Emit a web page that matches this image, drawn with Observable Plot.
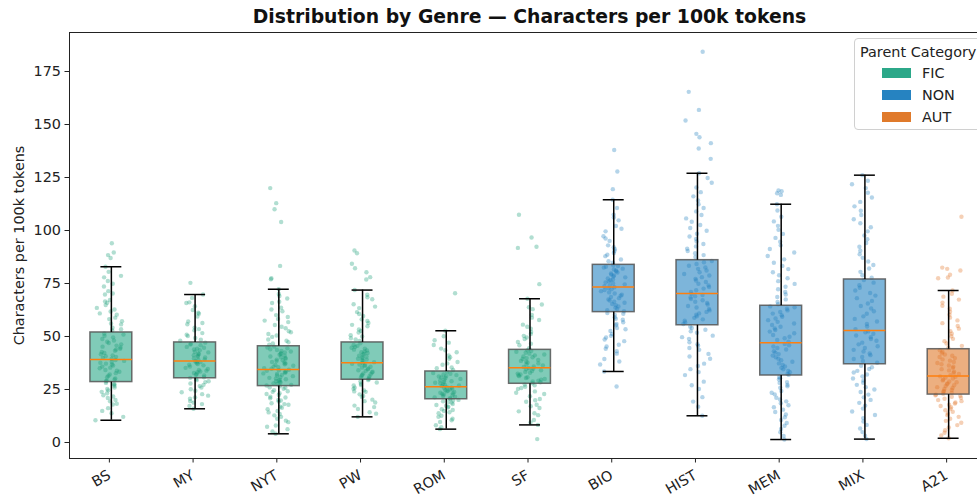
<!DOCTYPE html>
<html>
<head>
<meta charset="utf-8">
<script src="https://cdn.jsdelivr.net/npm/d3@7"></script>
<script src="https://cdn.jsdelivr.net/npm/@observablehq/plot@0.6"></script>
<style>
  html, body { margin: 0; padding: 0; background: white; overflow: hidden; width: 977px; height: 497px; }
  #wrap { position: relative; width: 1000px; height: 497px; font-family: "DejaVu Sans", sans-serif; }
  #title { position: absolute; left: 69px; width: 921px; top: 5px; text-align: center; font-weight: bold; font-size: 18.8px; line-height: 24px; color: #111; }
  #legend { position: absolute; left: 854px; top: 38px; width: 150px; height: 92px; border: 1px solid #d0d0d0; border-radius: 4px; background: rgba(255,255,255,0.85); font-size: 14.4px; color: #222; box-sizing: border-box; }
  #legend .lt { position: absolute; left: 5px; top: 5px; white-space: nowrap; }
  #legend .row { position: absolute; left: 27px; height: 18px; display: flex; align-items: center; white-space: nowrap; }
  #legend .sw { width: 29px; height: 10px; margin-right: 11px; }
</style>
</head>
<body>
<div id="wrap">
  <div id="chart"></div>
  <div id="title">Distribution by Genre — Characters per 100k tokens</div>
  <div id="legend"></div>
</div>
<script>
const genres = ["BS","MY","NYT","PW","ROM","SF","BIO","HIST","MEM","MIX","A21"];
const parents = ["FIC","FIC","FIC","FIC","FIC","FIC","NON","NON","NON","NON","AUT"];
const categories = ["FIC","NON","AUT"];
const categoryColors = ["#2ca889","#2683c1","#e07a2b"];
const pointColors = ["#139a74","#1a7bbd","#e07020"];

const whiskerLow  = [10.5, 15.9,  4.1, 12.1,  6.3,  8.3, 33.5,  12.6,   1.4,   1.6,  2.0];
const quart1      = [28.5, 30.3, 26.6, 29.6, 20.4, 27.7, 61.5,  55.3,  31.6,  36.9, 22.6];
const medians     = [39.2, 38.5, 34.4, 37.6, 26.3, 35.2, 73.3,  70.3,  47.0,  52.8, 31.4];
const quart3      = [51.9, 47.2, 45.4, 47.2, 33.5, 43.7, 83.8,  86.0,  64.5,  76.9, 44.0];
const whiskerHigh = [82.9, 69.8, 72.3, 71.9, 52.7, 67.8, 114.5, 127.0, 112.4, 126.1, 71.7];

const ptsBS = [10.5,12.1,13.8,16.2,17.9,19.4,20.1,21.7,22.3,23.9,24.6,25.2,26.8,27.4,28.1,
  28.9,29.7,30.2,31.5,32.1,33.4,34.2,35.0,35.8,36.3,37.6,38.1,38.9,
  39.5,40.4,41.1,42.7,43.3,44.8,45.2,46.9,47.5,48.1,49.6,50.3,51.4,
  52.8,54.1,55.7,57.2,58.9,60.3,61.8,63.5,65.9,67.2,69.8,71.4,73.6,76.2,77.9,80.5,82.9,
  87.0,88.4,89.6,94.0,
  14.9,18.3,21.0,23.2,25.9,27.6,29.2,30.8,32.7,33.9,35.3,36.8,37.2,38.5,39.9,40.7,41.6,42.2,
  43.8,44.2,45.7,46.3,48.8,50.9,53.4,56.1,58.2,60.9,62.7,64.8,66.5,70.3,74.9,78.6];
const ptsMY = [15.9,17.2,18.8,19.5,21.3,22.1,23.7,24.4,25.9,26.6,27.8,28.5,29.4,30.1,
  30.8,31.6,32.3,33.1,33.9,34.7,35.2,36.4,37.0,37.9,38.3,
  38.9,39.6,40.5,41.2,42.0,42.8,43.5,44.3,45.1,45.9,46.6,47.1,
  48.0,49.3,50.8,51.6,52.9,54.2,55.8,57.1,59.4,60.7,62.5,64.3,66.1,68.2,69.8,
  75.3,
  18.1,20.6,22.8,25.1,27.2,28.9,30.5,31.9,32.8,33.5,34.2,35.8,36.7,37.4,38.1,39.2,40.1,40.9,
  41.7,42.5,43.9,44.7,46.2,48.5,50.2,53.5,56.4,61.2,65.8];
const ptsNYT = [4.1,6.3,8.0,9.6,11.2,12.8,13.5,14.9,15.7,16.4,17.8,18.5,19.3,20.1,20.9,21.6,22.4,23.2,23.9,24.7,25.3,26.0,26.5,
  26.9,27.6,28.3,28.9,29.5,30.2,30.8,31.3,31.9,32.6,33.2,33.8,34.3,
  34.8,35.5,36.2,36.9,37.7,38.4,39.1,39.9,40.6,41.4,42.1,42.9,43.6,44.4,45.2,
  46.1,47.3,48.6,49.8,51.2,52.5,53.9,55.4,56.8,58.3,60.1,61.9,63.6,65.8,67.9,70.1,72.3,
  77.0,77.5,83.3,104.0,110.0,112.9,120.0,
  5.2,7.4,10.3,12.1,14.2,16.9,18.1,19.8,21.2,22.9,24.2,25.8,27.2,27.9,28.6,29.1,29.8,30.5,
  31.6,32.3,32.9,33.5,34.1,35.1,35.8,36.6,37.3,38.0,38.8,39.5,40.2,41.0,41.8,42.5,43.2,44.0,
  44.8,46.7,48.0,50.5,52.0,54.6,57.5,59.2,62.7,66.4,69.1];
const ptsPW = [12.1,14.3,15.8,17.4,18.9,20.2,21.5,22.7,23.9,24.6,25.8,26.9,27.7,28.8,29.4,
  29.9,30.7,31.5,32.2,33.0,33.8,34.5,35.3,36.1,36.8,37.4,
  37.9,38.7,39.5,40.2,41.0,41.9,42.6,43.4,44.3,45.1,46.0,46.8,
  47.9,49.2,50.6,51.9,53.3,54.8,56.4,58.1,59.7,61.5,63.4,65.2,67.6,69.7,71.9,
  76.9,78.0,80.3,82.2,84.3,89.3,90.6,
  13.6,16.7,19.5,21.9,24.1,25.3,27.1,28.3,30.3,31.1,31.9,32.6,33.4,34.1,34.9,35.7,36.5,37.1,
  38.3,39.1,39.8,40.6,41.5,42.2,43.0,43.8,44.7,45.6,48.6,50.0,52.6,55.5,57.3,60.6,64.1,68.5];
const ptsROM = [6.3,8.1,9.7,11.2,12.6,13.8,14.9,15.7,16.5,17.3,18.1,18.8,19.4,20.1,
  20.6,21.3,21.9,22.6,23.2,23.8,24.4,25.0,25.7,26.1,
  26.6,27.3,27.9,28.6,29.3,30.0,30.7,31.4,32.1,32.8,33.3,
  34.2,35.4,36.7,38.0,39.5,41.1,42.6,44.3,46.0,48.2,50.1,52.7,
  70.4,
  7.2,10.5,12.1,14.3,15.3,16.9,17.7,19.1,19.8,20.9,21.6,22.3,22.9,23.5,24.1,24.7,25.4,25.9,
  26.9,27.6,28.2,28.9,29.6,30.4,31.1,31.8,32.4,35.0,37.3,40.2,43.5,47.1];
const ptsSF = [8.3,10.6,12.9,14.7,16.3,17.8,19.2,20.5,21.8,22.9,24.1,25.2,26.3,27.3,
  28.0,28.8,29.6,30.4,31.3,32.1,32.9,33.7,34.5,35.0,
  35.6,36.4,37.3,38.1,38.9,39.8,40.6,41.5,42.3,43.2,
  44.5,45.9,47.4,48.8,50.3,52.1,53.7,55.6,57.8,60.2,62.9,65.1,67.8,
  1.6,74.7,91.8,92.3,96.7,107.4,
  9.4,13.8,17.1,19.9,23.5,25.7,27.0,28.4,29.2,30.0,30.8,31.7,32.5,33.3,34.1,34.8,35.9,36.8,
  37.7,38.5,39.4,40.2,41.1,41.9,42.8,43.5,46.6,49.5,51.2,54.6,58.9,63.8];
const ptsBIO = [33.5,36.8,39.4,41.9,44.2,46.1,47.8,49.5,51.2,52.6,54.0,55.3,56.7,57.9,59.1,60.2,61.1,
  61.9,63.0,64.2,65.3,66.4,67.5,68.6,69.7,70.8,71.9,72.8,
  73.7,74.6,75.5,76.5,77.4,78.3,79.2,80.2,81.1,82.0,82.9,83.6,
  84.8,86.3,87.9,89.4,91.2,93.0,95.1,97.3,99.6,102.1,104.8,107.5,110.6,114.5,
  26.4,119.5,127.8,138.0,
  38.2,43.1,45.3,48.6,50.3,53.4,55.9,58.4,60.7,62.4,63.6,64.8,65.9,67.0,68.1,69.2,70.3,71.4,
  72.3,73.2,74.1,75.0,76.0,76.9,77.9,78.8,79.7,80.7,81.6,82.5,83.2,85.5,88.6,90.3,92.1,96.2,100.8,106.1];
const ptsHIST = [12.6,16.9,21.4,25.2,28.7,31.8,34.6,37.2,39.5,41.8,43.7,45.6,47.3,48.9,50.4,51.8,53.2,54.6,
  55.9,57.4,58.8,60.3,61.6,63.0,64.4,65.8,67.1,68.4,69.6,
  71.0,72.6,74.1,75.7,77.2,78.8,80.3,81.9,83.4,85.0,
  87.5,89.3,91.4,93.6,96.0,98.5,101.2,104.1,107.3,110.6,114.2,118.1,122.5,127.0,
  133.8,138.7,141.2,144.0,145.6,151.9,156.9,165.4,184.3,
  19.3,27.0,33.2,36.1,40.6,44.6,46.4,49.7,52.5,54.0,56.6,58.1,59.5,60.9,62.3,63.7,65.1,66.4,
  67.7,69.0,70.0,71.8,73.3,74.9,76.4,78.0,79.5,81.1,82.6,84.2,85.6,88.4,90.3,92.5,94.8,97.2,
  99.9,102.6,105.7,109.0,112.4,116.1,120.3,124.8];
const ptsMEM = [1.4,4.8,7.9,10.6,13.2,15.5,17.6,19.4,21.1,22.7,24.3,25.8,27.2,28.5,29.7,30.9,
  32.3,33.8,35.2,36.6,38.1,39.5,41.0,42.4,43.9,45.3,46.5,
  47.6,49.2,50.7,52.3,53.8,55.4,56.9,58.5,60.0,61.6,63.1,64.2,
  66.3,68.6,71.0,73.5,76.1,78.9,81.8,84.8,88.0,91.3,94.7,98.4,102.2,106.5,112.4,
  116.8,117.6,118.5,118.9,
  3.1,6.4,9.2,11.9,14.4,16.6,18.5,20.3,23.5,26.5,28.1,30.3,31.9,33.1,34.5,35.9,37.3,38.8,
  40.2,41.7,43.1,44.6,45.9,48.4,49.9,51.5,53.1,54.6,56.1,57.7,59.3,60.8,62.3,63.8,65.2,67.5,
  69.8,72.3,74.8,77.5,80.3,83.3,86.4,89.6,93.0,96.5,100.3,104.3,109.4];
const ptsMIX = [1.6,4.9,8.3,11.5,14.6,17.4,20.1,22.6,25.0,27.2,29.3,31.2,33.0,34.7,36.2,
  37.6,39.4,41.2,42.9,44.6,46.3,48.0,49.7,51.3,52.4,
  53.5,55.9,58.3,60.7,63.2,65.6,68.1,70.5,73.0,75.4,76.6,
  78.9,82.1,85.4,88.8,92.3,95.9,99.6,103.4,107.3,111.4,115.6,120.0,123.5,126.1,
  3.2,6.6,9.9,13.0,16.0,18.7,21.3,23.8,26.1,28.2,30.2,32.1,33.8,35.5,38.5,40.3,42.0,43.7,
  45.4,47.1,48.8,50.5,52.0,54.7,57.1,59.5,61.9,64.4,66.8,69.3,71.7,74.2,77.7,80.5,83.7,87.1,
  90.5,94.1,97.7,101.5,105.3,109.3,113.5,117.8,121.8];
const ptsA21 = [2.0,4.6,7.1,9.3,11.2,12.9,14.5,15.9,17.2,18.4,19.5,20.6,21.6,22.3,
  23.0,23.9,24.8,25.7,26.6,27.5,28.4,29.3,30.2,31.0,
  31.8,32.9,34.0,35.2,36.3,37.5,38.6,39.8,40.9,42.1,43.5,
  45.6,47.8,50.1,52.5,55.0,57.6,60.3,63.1,66.0,68.8,71.7,
  77.5,77.8,79.1,81.1,81.9,82.5,106.5,
  3.3,5.8,8.2,10.2,12.1,13.7,15.2,16.6,17.8,18.9,20.0,21.1,22.0,22.6,23.4,24.3,25.2,26.1,
  27.0,27.9,28.8,29.7,30.6,31.2,32.3,33.4,34.6,35.7,36.9,38.0,39.2,40.3,41.5,42.8,44.6,46.7,
  48.9,51.3,53.7,56.3,58.9,61.7,64.5,67.4,70.2];
const allPoints = [ptsBS,ptsMY,ptsNYT,ptsPW,ptsROM,ptsSF,ptsBIO,ptsHIST,ptsMEM,ptsMIX,ptsA21];
const yTicks = [0,25,50,75,100,125,150,175];

const colorOf = p => categoryColors[categories.indexOf(p)];
const pointColorOf = p => pointColors[categories.indexOf(p)];

const boxes = genres.map((g, i) => ({
  g, p: parents[i], x: i + 1,
  x1: i + 1 - 0.25, x2: i + 1 + 0.25,
  c1: i + 1 - 0.125, c2: i + 1 + 0.125,
  lo: whiskerLow[i], q1: quart1[i], med: medians[i], q3: quart3[i], hi: whiskerHigh[i]
}));

// deterministic, layout-only horizontal spread (triangular profile)
const frac = v => v - Math.floor(v);
const spread = (j, gi) => {
  const a = frac(j * j * 0.6180339887 + j * 0.2316 + gi * 0.37);
  const b = frac(j * 0.7548776662 + j * j * 0.1414 + gi * 0.53);
  return (a + b - 1) * 0.19;
};
const dots = allPoints.flatMap((arr, gi) => arr.map((v, j) => ({
  x: gi + 1 + spread(j, gi),
  y: v, p: parents[gi]
})));

const chart = Plot.plot({
  width: 1000, height: 497,
  marginLeft: 69, marginRight: 10, marginTop: 32, marginBottom: 39,
  x: { domain: [0.5, 11.5] },
  y: { domain: [-7.55, 193.4] },
  style: { fontFamily: "DejaVu Sans", fontSize: "14.4px", color: "#222", background: "white" },
  marks: [
    Plot.rect(boxes, { x1: "x1", x2: "x2", y1: "q1", y2: "q3", fill: d => colorOf(d.p), fillOpacity: 0.6 }),
    Plot.dot(dots, { x: "x", y: "y", r: 2.2, fill: d => pointColorOf(d.p), fillOpacity: 0.33, stroke: "none" }),
    Plot.rect(boxes, { x1: "x1", x2: "x2", y1: "q1", y2: "q3", fill: "none", stroke: "#555", strokeOpacity: 0.85, strokeWidth: 1.5 }),
    Plot.ruleX(boxes, { x: "x", y1: "lo", y2: "q1", stroke: "black", strokeWidth: 1.5 }),
    Plot.ruleX(boxes, { x: "x", y1: "q3", y2: "hi", stroke: "black", strokeWidth: 1.5 }),
    Plot.ruleY(boxes, { y: "lo", x1: "c1", x2: "c2", stroke: "black", strokeWidth: 1.5 }),
    Plot.ruleY(boxes, { y: "hi", x1: "c1", x2: "c2", stroke: "black", strokeWidth: 1.5 }),
    Plot.ruleY(boxes, { y: "med", x1: "x1", x2: "x2", stroke: "#ff7f0e", strokeWidth: 1.5 }),
    Plot.axisY({ ticks: yTicks, tickSize: 4.5, tickPadding: 4, label: "Characters per 100k tokens", labelAnchor: "center", labelOffset: 56, labelArrow: "none" }),
    Plot.axisX({ ticks: genres.map((g, i) => i + 1), tickFormat: v => genres[v - 1], tickRotate: -30, tickSize: 4.5, tickPadding: 11, dx: -2, label: null }),
    Plot.frame({ stroke: "#222", strokeWidth: 1 })
  ]
});
document.getElementById("chart").appendChild(chart);

const legend = document.getElementById("legend");
legend.innerHTML = '<div class="lt">Parent Category</div>' + categories.map((c, i) =>
  `<div class="row" style="top:${25 + i * 22}px"><div class="sw" style="background:${categoryColors[i]}"></div>${c}</div>`).join("");
</script>
</body>
</html>
